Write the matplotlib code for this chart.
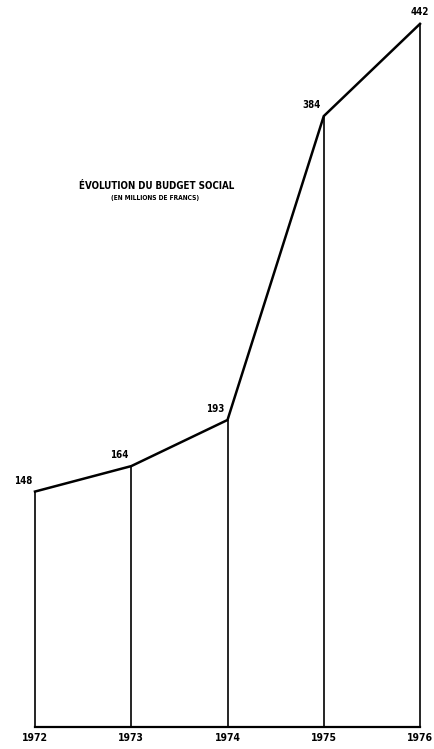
import matplotlib
matplotlib.use("Agg")
import matplotlib.pyplot as plt
from matplotlib import font_manager

years = [1972, 1973, 1974, 1975, 1976]
year_labels = ["1972", "1973", "1974", "1975", "1976"]
budget = [148, 164, 193, 384, 442]
title = "ÉVOLUTION DU BUDGET SOCIAL"
subtitle = "(EN MILLIONS DE FRANCS)"

names = {f.name for f in font_manager.fontManager.ttflist}
if "Liberation Sans Narrow" in names:
    FONT = ["Liberation Sans Narrow", "DejaVu Sans"]
    STRETCH = "normal"
else:
    FONT = ["DejaVu Sans"]
    STRETCH = "condensed"

W, H = 435, 749
fig = plt.figure(figsize=(W / 100, H / 100), dpi=100)
fig.patch.set_facecolor("white")
left_px, right_px, base_px = 35, 420, 727
ax = fig.add_axes([left_px / W, 1 - base_px / H, (right_px - left_px) / W, base_px / H])
ax.set_xlim(years[0], years[-1])
ax.set_ylim(0, 457)
ax.axis("off")

txt = dict(fontweight="bold", family=FONT, fontstretch=STRETCH)

ax.vlines(years, 0, budget, colors="black", linewidth=1.2, clip_on=False)
ax.plot([years[0], years[-1]], [0, 0], color="black", linewidth=1.6, clip_on=False)
ax.plot(years, budget, color="black", linewidth=1.8, solid_joinstyle="miter", clip_on=False)

for i, (x, v) in enumerate(zip(years, budget)):
    if i == len(years) - 1:
        ax.annotate(str(v), (x, v), xytext=(0, 7), textcoords="offset pixels",
                    ha="center", va="bottom", fontsize=7, annotation_clip=False, **txt)
    else:
        ax.annotate(str(v), (x, v), xytext=(-3, 6), textcoords="offset pixels",
                    ha="right", va="bottom", fontsize=7, annotation_clip=False, **txt)

for x, lab in zip(years, year_labels):
    ax.annotate(lab, (x, 0), xytext=(0, -6), textcoords="offset pixels",
                ha="center", va="top", fontsize=7.5, annotation_clip=False, **txt)

fig.text(157 / W, 1 - 186 / H, title, ha="center", va="center", fontsize=7, **txt)
fig.text(155 / W, 1 - 198 / H, subtitle, ha="center", va="center", fontsize=4.8, **txt)

fig.savefig("out.png", dpi=100, facecolor="white")
